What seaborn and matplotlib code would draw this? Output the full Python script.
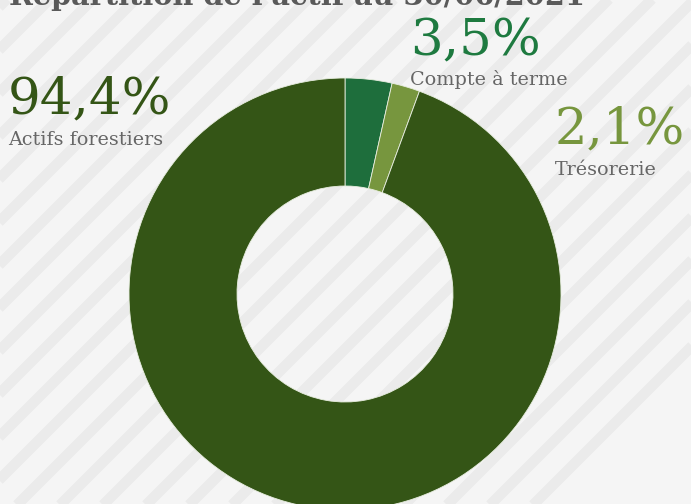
import matplotlib
matplotlib.use("Agg")
import matplotlib.pyplot as plt
import seaborn as sns
import numpy as np

# ---- data ----
categories = ["Compte à terme", "Trésorerie", "Actifs forestiers"]
values = [3.5, 2.1, 94.4]
value_labels = ["3,5%", "2,1%", "94,4%"]
title = "Répartition de l'actif au 30/06/2021"

colors = ["#1e6e3c", "#77963e", "#345516"]
label_colors = ["#1e7a40", "#77963e", "#345516"]

sns.set_style("white")
plt.rcParams["font.family"] = ["DejaVu Serif", "DejaVu Sans"]

W, H = 691, 504
fig = plt.figure(figsize=(W / 100, H / 100), dpi=100)
fig.patch.set_facecolor("#f5f5f5")
ax = fig.add_axes([0, 0, 1, 1])
ax.set_facecolor("#f5f5f5")

# background diagonal stripes
for c in np.arange(221 - 43 * 20, 221 + 43 * 20, 43):
    xs = np.array([-100, W + 100])
    ax.plot(xs, (H - c) + xs, color="#ebebeb", lw=7.5, solid_capstyle="butt", zorder=0)

# donut
cx, cy, r = 345, H - 294, 216
ax.pie(values, colors=colors, startangle=90, counterclock=False,
       center=(cx, cy), radius=r, frame=True,
       wedgeprops=dict(width=108, edgecolor="#e8eee0", linewidth=0.6))
ax.set_xlim(0, W)
ax.set_ylim(0, H)
ax.set_aspect("auto")
ax.axis("off")

# title (partially cut off at top, as in the reference)
ax.text(9, H - 5, title, fontsize=20.7, fontweight="bold", color="#5a5a5a",
        ha="left", va="baseline", zorder=5)

# labels
pos = {
    "Compte à terme": (410, 55, 85),
    "Trésorerie": (555, 143, 175),
    "Actifs forestiers": (8, 113, 145),
}
for cat, lab, col in zip(categories, value_labels, label_colors):
    x, yb, yc = pos[cat]
    ax.text(x, H - yb, lab, fontsize=37, color=col, ha="left", va="baseline", zorder=5)
    ax.text(x, H - yc, cat, fontsize=13.8, color="#666666", ha="left", va="baseline", zorder=5)

fig.savefig("out.png", dpi=100, facecolor=fig.get_facecolor())
